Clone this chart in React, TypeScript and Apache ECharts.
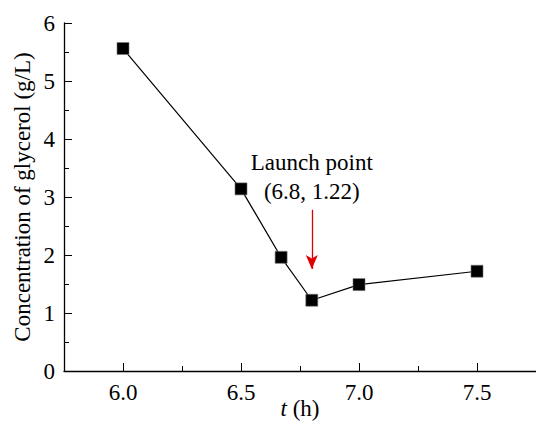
import React, { useEffect, useRef } from "react";
import * as echarts from "echarts";

const timeH = [6.0, 6.5, 6.67, 6.8, 7.0, 7.5];
const glycerol = [5.56, 3.14, 1.96, 1.22, 1.49, 1.72];
const xMajorTicks = [6.0, 6.5, 7.0, 7.5];
const xMinorTicks = [6.25, 6.75, 7.25];
const launchPoint = [6.8, 1.22];
const arrowFrom = 2.78;
const arrowTo = 1.76;
const labelAt = 3.35;

const FONT = "Liberation Serif, Times New Roman, serif";
const FS = 23;
const serifRich = { s: { fontFamily: FONT, fontSize: FS, color: "#000" } };

export default function App() {
  const ref = useRef<HTMLDivElement>(null);
  useEffect(() => {
    if (!ref.current) return;
    const chart = echarts.init(ref.current, undefined, { renderer: "svg" });
    const axisLine = { lineStyle: { color: "#000", width: 1.3 } };
    chart.setOption({
      animation: false,
      backgroundColor: "#fff",
      textStyle: { fontFamily: FONT, color: "#000" },
      grid: { left: 64, right: 0, top: 23, bottom: 52, containLabel: false, outerBoundsMode: "none" },
      xAxis: [
        {
          type: "value",
          min: 5.75,
          max: 7.75,
          position: "bottom",
          name: "{i|t} (h)",
          nameLocation: "middle",
          nameGap: 26,
          nameMoveOverlap: false,
          nameTextStyle: {
            fontFamily: FONT,
            fontSize: FS,
            color: "#000",
            verticalAlign: "top",
            rich: { i: { fontStyle: "italic", fontFamily: FONT, fontSize: FS, color: "#000" } },
          },
          axisLine,
          axisTick: { show: true, inside: true, length: 8, customValues: xMajorTicks, lineStyle: { color: "#000" } },
          axisLabel: {
            customValues: xMajorTicks,
            formatter: (v: number) => "{s|" + v.toFixed(1) + "}",
            rich: serifRich,
            fontFamily: FONT,
            fontSize: FS,
            color: "#000",
            margin: 10,
          },
          splitLine: { show: false },
        },
        {
          type: "value",
          min: 5.75,
          max: 7.75,
          position: "bottom",
          axisLine: { show: false },
          axisTick: { show: true, inside: true, length: 5, customValues: xMinorTicks, lineStyle: { color: "#000" } },
          axisLabel: { show: false },
          splitLine: { show: false },
        },
      ],
      yAxis: {
        type: "value",
        min: 0,
        max: 6,
        interval: 1,
        name: "Concentration of glycerol (g/L)",
        nameLocation: "middle",
        nameGap: 30,
        nameMoveOverlap: false,
        nameTextStyle: { fontFamily: FONT, fontSize: FS, color: "#000" },
        axisLine: { show: true, lineStyle: { color: "#000", width: 1.3 } },
        axisTick: { show: true, inside: true, length: 8, lineStyle: { color: "#000" } },
        minorTick: { show: true, splitNumber: 2, length: 5, lineStyle: { color: "#000" } },
        axisLabel: {
          formatter: (v: number) => "{s|" + v + "}",
          rich: serifRich,
          fontFamily: FONT,
          fontSize: FS,
          color: "#000",
          margin: 9,
        },
        splitLine: { show: false },
      },
      series: [
        {
          type: "line",
          data: timeH.map((t, i) => [t, glycerol[i]]),
          symbol: "rect",
          symbolSize: 12,
          itemStyle: { color: "#000", borderColor: "#777", borderWidth: 0.6 },
          lineStyle: { color: "#000", width: 1.2 },
          markLine: {
            silent: true,
            symbol: ["none", "arrow"],
            symbolSize: [9, 14],
            label: { show: false },
            lineStyle: { color: "#e00000", width: 1.3, type: "solid" },
            data: [[{ coord: [launchPoint[0], arrowFrom] }, { coord: [launchPoint[0], arrowTo] }]],
          },
          markPoint: {
            silent: true,
            symbol: "circle",
            symbolSize: 0,
            itemStyle: { color: "transparent" },
            label: {
              show: true,
              position: "inside",
              formatter: "Launch point\n(" + launchPoint[0] + ", " + launchPoint[1].toFixed(2) + ")",
              fontFamily: FONT,
              fontSize: FS,
              lineHeight: 29,
              color: "#000",
              align: "center",
            },
            data: [{ coord: [launchPoint[0], labelAt] }],
          },
        },
      ],
    });
    return () => chart.dispose();
  }, []);
  return (
    <div
      ref={ref}
      style={{ position: "absolute", left: 0, top: 0, width: 536, height: 423 }}
    />
  );
}
